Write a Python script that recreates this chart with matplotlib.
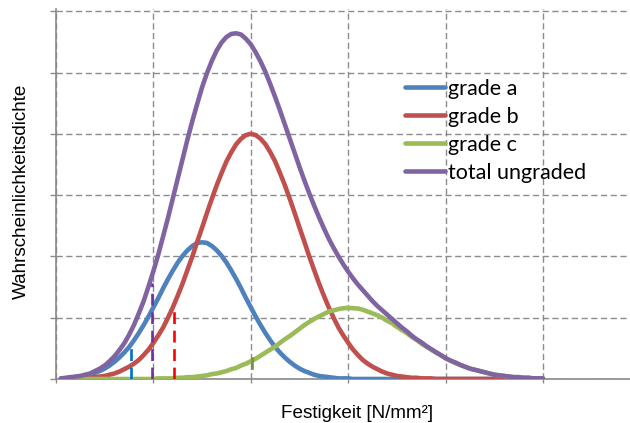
import matplotlib
matplotlib.use("Agg")
import matplotlib.pyplot as plt
from matplotlib.font_manager import FontProperties

# Strength axis sample positions (grid units)
x = [0.05, 0.10, 0.15, 0.20, 0.25, 0.30, 0.35, 0.40, 0.45, 0.50,
     0.55, 0.60, 0.65, 0.70, 0.75, 0.80, 0.85, 0.90, 0.95, 1.00,
     1.05, 1.10, 1.15, 1.20, 1.25, 1.30, 1.35, 1.40, 1.45, 1.50,
     1.55, 1.60, 1.65, 1.70, 1.75, 1.80, 1.85, 1.90, 1.95, 2.00,
     2.05, 2.10, 2.15, 2.20, 2.25, 2.30, 2.35, 2.40, 2.45, 2.50,
     2.55, 2.60, 2.65, 2.70, 2.75, 2.80, 2.85, 2.90, 2.95, 3.00,
     3.05, 3.10, 3.15, 3.20, 3.25, 3.30, 3.35, 3.40, 3.45, 3.50,
     3.55, 3.60, 3.65, 3.70, 3.75, 3.80, 3.85, 3.90, 3.95, 4.00,
     4.05, 4.10, 4.15, 4.20, 4.25, 4.30, 4.35, 4.40, 4.45, 4.50,
     4.55, 4.60, 4.65, 4.70, 4.75, 4.80, 4.85, 4.90, 4.95, 5.00]

grade_a = [0.01, 0.01, 0.02, 0.03, 0.04, 0.05, 0.07, 0.10, 0.13, 0.17,
           0.22, 0.28, 0.35, 0.43, 0.52, 0.63, 0.75, 0.88, 1.02, 1.17,
           1.32, 1.48, 1.63, 1.77, 1.90, 2.01, 2.10, 2.17, 2.22, 2.23,
           2.22, 2.17, 2.10, 2.01, 1.90, 1.77, 1.63, 1.48, 1.32, 1.17,
           1.02, 0.88, 0.75, 0.63, 0.52, 0.43, 0.35, 0.28, 0.22, 0.17,
           0.13, 0.10, 0.07, 0.05, 0.04, 0.03, 0.02, 0.01, 0.01, 0.01,
           0.00, 0.00, 0.00, 0.00, 0.00, 0.00, 0.00, 0.00, 0.00, 0.00,
           0.00, 0.00, 0.00, 0.00, 0.00, 0.00, 0.00, 0.00, 0.00, 0.00,
           0.00, 0.00, 0.00, 0.00, 0.00, 0.00, 0.00, 0.00, 0.00, 0.00,
           0.00, 0.00, 0.00, 0.00, 0.00, 0.00, 0.00, 0.00, 0.00, 0.00]

grade_b = [0.00, 0.00, 0.01, 0.01, 0.01, 0.02, 0.02, 0.03, 0.04, 0.05,
           0.07, 0.09, 0.12, 0.16, 0.20, 0.25, 0.31, 0.39, 0.48, 0.59,
           0.71, 0.84, 1.00, 1.17, 1.36, 1.56, 1.78, 2.00, 2.24, 2.47,
           2.71, 2.94, 3.16, 3.36, 3.55, 3.70, 3.83, 3.92, 3.98, 4.00,
           3.98, 3.92, 3.83, 3.70, 3.55, 3.36, 3.16, 2.94, 2.71, 2.47,
           2.24, 2.00, 1.78, 1.56, 1.36, 1.17, 1.00, 0.84, 0.71, 0.59,
           0.48, 0.39, 0.31, 0.25, 0.20, 0.16, 0.12, 0.09, 0.07, 0.05,
           0.04, 0.03, 0.02, 0.02, 0.01, 0.01, 0.01, 0.00, 0.00, 0.00,
           0.00, 0.00, 0.00, 0.00, 0.00, 0.00, 0.00, 0.00, 0.00, 0.00,
           0.00, 0.00, 0.00, 0.00, 0.00, 0.00, 0.00, 0.00, 0.00, 0.00]

grade_c = [0.00, 0.00, 0.00, 0.00, 0.00, 0.00, 0.00, 0.00, 0.00, 0.00,
           0.00, 0.00, 0.00, 0.00, 0.00, 0.00, 0.00, 0.00, 0.00, 0.00,
           0.01, 0.01, 0.01, 0.01, 0.02, 0.02, 0.03, 0.03, 0.04, 0.05,
           0.06, 0.08, 0.09, 0.11, 0.13, 0.16, 0.18, 0.22, 0.25, 0.29,
           0.33, 0.38, 0.43, 0.48, 0.53, 0.59, 0.65, 0.70, 0.76, 0.82,
           0.88, 0.93, 0.98, 1.02, 1.06, 1.10, 1.12, 1.14, 1.155, 1.16,
           1.155, 1.15, 1.13, 1.10, 1.07, 1.04, 1.00, 0.95, 0.91, 0.85,
           0.80, 0.75, 0.69, 0.64, 0.58, 0.53, 0.48, 0.43, 0.39, 0.34,
           0.30, 0.26, 0.23, 0.20, 0.17, 0.15, 0.13, 0.11, 0.09, 0.07,
           0.06, 0.05, 0.04, 0.03, 0.03, 0.02, 0.02, 0.01, 0.01, 0.01]

total_ungraded = [0.01, 0.02, 0.03, 0.04, 0.05, 0.07, 0.09, 0.13, 0.17, 0.22,
                  0.29, 0.37, 0.47, 0.58, 0.72, 0.88, 1.07, 1.27, 1.51, 1.76,
                  2.03, 2.33, 2.63, 2.95, 3.27, 3.59, 3.91, 4.21, 4.49, 4.76,
                  4.99, 5.19, 5.36, 5.49, 5.58, 5.63, 5.64, 5.62, 5.55, 5.46,
                  5.33, 5.18, 5.01, 4.81, 4.60, 4.38, 4.15, 3.92, 3.69, 3.46,
                  3.24, 3.03, 2.83, 2.64, 2.46, 2.29, 2.14, 2.00, 1.87, 1.75,
                  1.64, 1.54, 1.45, 1.36, 1.27, 1.19, 1.12, 1.05, 0.98, 0.91,
                  0.84, 0.78, 0.71, 0.65, 0.60, 0.54, 0.49, 0.44, 0.39, 0.34,
                  0.30, 0.27, 0.23, 0.20, 0.17, 0.15, 0.13, 0.11, 0.09, 0.07,
                  0.06, 0.05, 0.04, 0.03, 0.03, 0.02, 0.02, 0.01, 0.01, 0.01]

labels = ["grade a", "grade b", "grade c", "total ungraded"]
colors = ["#4F81BD", "#C0504D", "#9BBB59", "#8064A2"]

# Quantile markers: position and height of each dashed drop line
marker_x = [0.77, 0.99, 1.21]
marker_top = [0.51, 1.57, 1.18]
marker_colors = ["#0070C0", "#7030A0", "#FF0000"]
# short tick on grade c
c_marker_x = 2.01
c_marker_span = [0.18, 0.34]

grid_col = "#8C8C8C"
axis_col = "#8A8A8A"

fig = plt.figure(figsize=(6.3, 4.23), dpi=100)
ax = fig.add_axes([56 / 630, 44 / 423, 574 / 630, 369.6 / 423])
ax.set_xlim(0, 574 / 97.4)
ax.set_ylim(0, 6.03)

series = [grade_a, grade_b, grade_c, total_ungraded]
handles = []
for i, (ys, lab, col) in enumerate(zip(series, labels, colors)):
    h, = ax.plot(x, ys, color=col, lw=3.3, solid_capstyle="round",
                 solid_joinstyle="round", zorder=3 + i, label=lab)
    handles.append(h)

for mx, mt, mc in zip(marker_x, marker_top, marker_colors):
    ax.plot([mx, mx], [0, mt], color=mc, lw=1.9, linestyle=(0, (4.5, 2.5)),
            zorder=8)
ax.plot([c_marker_x, c_marker_x], c_marker_span, color="#76933C", lw=1.9, zorder=8)

# grid
ax.set_xticks([0, 1, 2, 3, 4, 5])
ax.set_yticks([0, 1, 2, 3, 4, 5, 6])
ax.grid(True, color=grid_col, lw=1.0, linestyle=(0, (4.5, 2.5)), zorder=0)
ax.set_axisbelow(True)
ax.tick_params(axis="y", direction="out", length=4.5, width=1.0, color=axis_col,
               labelleft=False)
ax.tick_params(axis="x", direction="out", length=3, width=1.0, color=axis_col,
               labelbottom=False)
for side in ("top", "right"):
    ax.spines[side].set_visible(False)
for side in ("left", "bottom"):
    ax.spines[side].set_color(axis_col)
    ax.spines[side].set_linewidth(1.2)

label_font = dict(family="Liberation Sans", size=13.6)
fig.text(357 / 630, 1 - 418 / 423, "Festigkeit [N/mm²]", ha="center",
         va="baseline", **label_font)
fig.text(21 / 630, 1 - 191 / 423, "Wahrscheinlichkeitsdichte", rotation=90,
         ha="center", va="center", **label_font)

ax.legend(handles, labels, loc="upper left",
          bbox_to_anchor=(405 / 630, 1 - 79 / 423), bbox_transform=fig.transFigure,
          frameon=False, borderpad=0, borderaxespad=0, handlelength=1.86,
          handletextpad=0.14, labelspacing=0.37,
          prop=FontProperties(family="Lato", size=15.5))

fig.savefig("out.png", dpi=100)
